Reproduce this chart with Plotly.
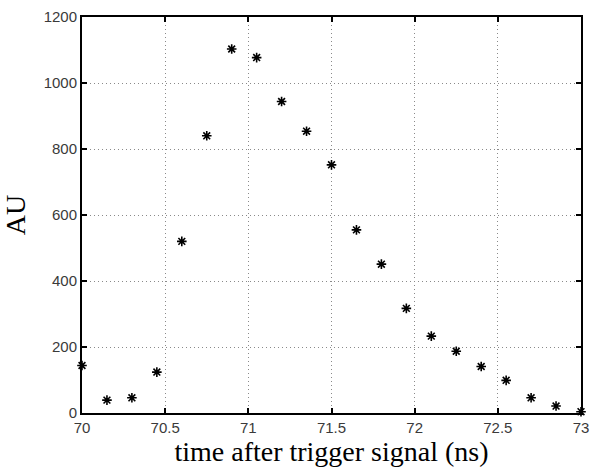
import plotly.graph_objects as go

# Sampled signal, 0.15 ns spacing
time_ns = [70.0, 70.15, 70.3, 70.45, 70.6, 70.75, 70.9, 71.05, 71.2, 71.35, 71.5,
           71.65, 71.8, 71.95, 72.1, 72.25, 72.4, 72.55, 72.7, 72.85, 73.0]
amplitude = [144, 39, 46, 124, 520, 840, 1103, 1077, 944, 854, 752,
             555, 451, 317, 233, 187, 141, 99, 46, 21, 4]

x_ticks = [70, 70.5, 71, 71.5, 72, 72.5, 73]
x_tick_text = ["70", "70.5", "71", "71.5", "72", "72.5", "73"]
y_ticks = [0, 200, 400, 600, 800, 1000, 1200]

x_range = [70, 73]
y_range = [0, 1200]

fig = go.Figure()
fig.add_trace(go.Scatter(
    x=time_ns, y=amplitude, mode="markers",
    marker=dict(symbol="asterisk-open", size=8, color="black",
                line=dict(color="black", width=1.6)),
    cliponaxis=False, showlegend=False,
))
# invisible copy that carries the top/right tick axes
fig.add_trace(go.Scatter(
    x=time_ns, y=amplitude, mode="markers", xaxis="x2", yaxis="y2",
    marker=dict(opacity=0), hoverinfo="skip", showlegend=False,
))

tick_style = dict(ticks="inside", ticklen=5, tickwidth=2, tickcolor="black")

axis_common = dict(
    showline=True, linecolor="black", linewidth=2, mirror=True,
    showgrid=True, gridcolor="#8a8a8a", griddash="1px,3px", gridwidth=1,
    zeroline=False,
    tickfont=dict(family="Liberation Sans, Arial", size=15, color="#3a3a3a"),
    **tick_style,
)

title_font = dict(family="Liberation Serif, Times New Roman", size=28, color="black")

fig.update_layout(
    width=597, height=475,
    margin=dict(l=82, r=8, t=14, b=62),
    paper_bgcolor="white", plot_bgcolor="white",
    xaxis=dict(range=x_range, tickvals=x_ticks, ticktext=x_tick_text,
               title=dict(text="time after trigger signal (ns)", standoff=0,
                          font=title_font),
               **axis_common),
    yaxis=dict(range=y_range, tickvals=y_ticks,
               title=dict(text="AU", standoff=10, font=title_font),
               **axis_common),
    xaxis2=dict(range=x_range, tickvals=x_ticks, overlaying="x", side="top",
                showticklabels=False, showgrid=False, zeroline=False,
                showline=False, **tick_style),
    yaxis2=dict(range=y_range, tickvals=y_ticks, overlaying="y", side="right",
                showticklabels=False, showgrid=False, zeroline=False,
                showline=False, **tick_style),
)

fig.write_html("out.html")
